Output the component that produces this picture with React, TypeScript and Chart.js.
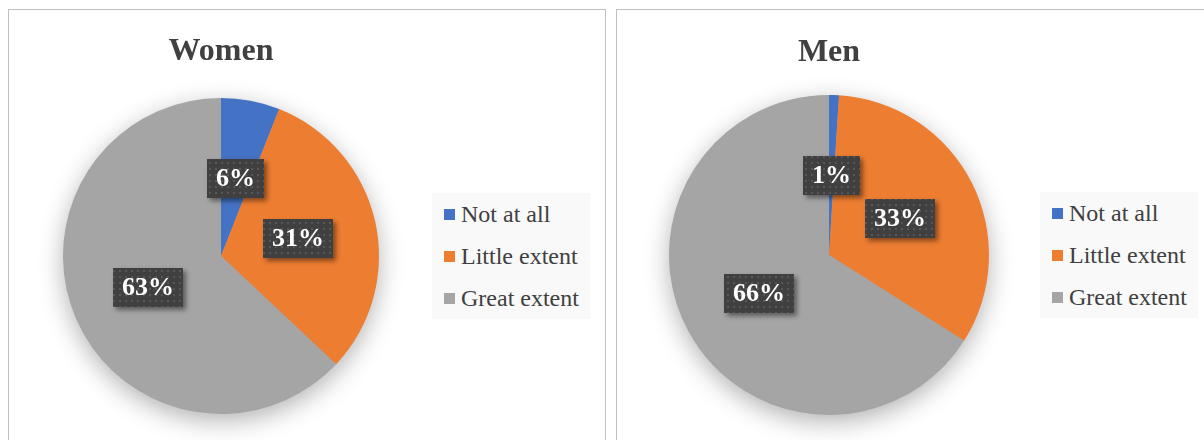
import React, { useEffect, useRef } from "react";
import { Chart, registerables } from "chart.js";

Chart.register(...registerables);

// ---- data ----
const categories = ["Not at all", "Little extent", "Great extent"];
const sliceColors = ["#4472C4", "#ED7D31", "#A5A5A5"];
const womenValues = [6, 31, 63];
const menValues = [1, 33, 66];
const womenTitle = "Women";
const menTitle = "Men";

const SERIF = '"Liberation Serif", "Times New Roman", Times, serif';
const TEXT_COLOR = "#404040";

function makePattern(ctx: CanvasRenderingContext2D) {
  const c = document.createElement("canvas");
  c.width = 6;
  c.height = 6;
  const p = c.getContext("2d")!;
  p.fillStyle = "#404040";
  p.fillRect(0, 0, 6, 6);
  p.fillStyle = "#575757";
  p.fillRect(2, 2, 2, 2);
  return ctx.createPattern(c, "repeat");
}

const pieShadow = {
  id: "pieShadow",
  beforeDatasetsDraw(chart: any) {
    const meta = chart.getDatasetMeta(0);
    const arc = meta.data[0];
    if (!arc) return;
    const { x, y, outerRadius } = arc.getProps(["x", "y", "outerRadius"], true);
    const ctx = chart.ctx as CanvasRenderingContext2D;
    ctx.save();
    ctx.shadowColor = "rgba(0,0,0,0.32)";
    ctx.shadowBlur = 26;
    ctx.shadowOffsetY = 7;
    ctx.fillStyle = "#a5a5a5";
    ctx.beginPath();
    ctx.arc(x, y, outerRadius - 1, 0, Math.PI * 2);
    ctx.fill();
    ctx.restore();
  },
};

const dataLabels = {
  id: "dataLabels",
  afterDatasetsDraw(chart: any) {
    const ctx = chart.ctx as CanvasRenderingContext2D;
    const ds = chart.data.datasets[0];
    const values = ds.data as number[];
    const total = values.reduce((a, b) => a + b, 0);
    const meta = chart.getDatasetMeta(0);
    const pattern = makePattern(ctx);
    ctx.save();
    ctx.font = `bold 26px ${SERIF}`;
    meta.data.forEach((arc: any, i: number) => {
      const { x, y, startAngle, endAngle, outerRadius } = arc.getProps(
        ["x", "y", "startAngle", "endAngle", "outerRadius"],
        true
      );
      const mid = (startAngle + endAngle) / 2;
      const r = outerRadius * 0.5;
      const cx = x + Math.cos(mid) * r;
      const cy = y + Math.sin(mid) * r;
      const text = Math.round((values[i] / total) * 100) + "%";
      const tw = ctx.measureText(text).width;
      const w = Math.round(tw + 18);
      const h = 39;
      const bx = Math.round(cx - w / 2);
      const by = Math.round(cy - h / 2);
      ctx.save();
      ctx.shadowColor = "rgba(0,0,0,0.45)";
      ctx.shadowBlur = 5;
      ctx.shadowOffsetX = 3;
      ctx.shadowOffsetY = 3;
      ctx.fillStyle = pattern || "#404040";
      ctx.fillRect(bx, by, w, h);
      ctx.restore();
      ctx.fillStyle = "#ffffff";
      ctx.textAlign = "center";
      ctx.textBaseline = "middle";
      ctx.fillText(text, bx + w / 2, by + h / 2 + 1);
    });
    ctx.restore();
  },
};

type PanelProps = {
  title: string;
  values: number[];
  left: number;
  width: number;
  pad: { top: number; bottom: number; left: number; right: number };
  titlePad: { top: number; bottom: number };
  legend: { left: number; top: number; width: number; height: number };
};

function PiePanel(props: PanelProps) {
  const ref = useRef<HTMLCanvasElement | null>(null);
  useEffect(() => {
    if (!ref.current) return;
    const chart = new Chart(ref.current, {
      type: "pie",
      data: {
        labels: categories,
        datasets: [
          {
            data: props.values,
            backgroundColor: sliceColors,
            borderWidth: 0,
            hoverOffset: 0,
            offset: 0,
          },
        ],
      },
      options: {
        animation: false,
        responsive: false,
        events: [],
        layout: { padding: props.pad },
        plugins: {
          legend: { display: false },
          tooltip: { enabled: false },
          title: {
            display: true,
            text: props.title,
            color: TEXT_COLOR,
            font: { family: SERIF, size: 32, weight: "bold" },
            padding: props.titlePad,
            fullSize: false,
          },
        },
      },
      plugins: [pieShadow, dataLabels],
    } as any);
    return () => chart.destroy();
  }, []);

  const lg = props.legend;
  return (
    <>
      <div
        style={{
          position: "absolute",
          left: props.left,
          top: 9,
          width: props.width,
          height: 460,
          border: "1px solid #bfbfbf",
          boxSizing: "border-box",
          background: "#ffffff",
        }}
      />
      <canvas
        ref={ref}
        width={596}
        height={430}
        style={{ position: "absolute", left: props.left + 1, top: 10, width: 596, height: 430 }}
      />
      <div
        style={{
          position: "absolute",
          left: lg.left,
          top: lg.top,
          width: lg.width,
          height: lg.height,
          background: "#f9f9f9",
          boxSizing: "border-box",
          paddingLeft: 12,
          display: "flex",
          flexDirection: "column",
          justifyContent: "center",
          fontFamily: SERIF,
          fontSize: 24,
          color: TEXT_COLOR,
        }}
      >
        {categories.map((c, i) => (
          <div key={c} style={{ height: 42, display: "flex", alignItems: "center", whiteSpace: "nowrap" }}>
            <span
              style={{
                display: "inline-block",
                width: 11,
                height: 11,
                background: sliceColors[i],
                marginRight: 6,
              }}
            />
            <span>{c}</span>
          </div>
        ))}
      </div>
    </>
  );
}

export default function App() {
  return (
    <div style={{ position: "absolute", left: 0, top: 0, width: 1204, height: 440, overflow: "hidden", background: "#fff" }}>
      <PiePanel
        title={womenTitle}
        values={womenValues}
        left={8}
        width={598}
        pad={{ top: 0, bottom: 26, left: 20, right: 192 }}
        titlePad={{ top: 23, bottom: 26.6 }}
        legend={{ left: 432, top: 193, width: 158, height: 126 }}
      />
      <PiePanel
        title={menTitle}
        values={menValues}
        left={616}
        width={610}
        pad={{ top: 0, bottom: 25, left: 20, right: 192 }}
        titlePad={{ top: 24, bottom: 22.6 }}
        legend={{ left: 1040, top: 192, width: 158, height: 126 }}
      />
    </div>
  );
}
